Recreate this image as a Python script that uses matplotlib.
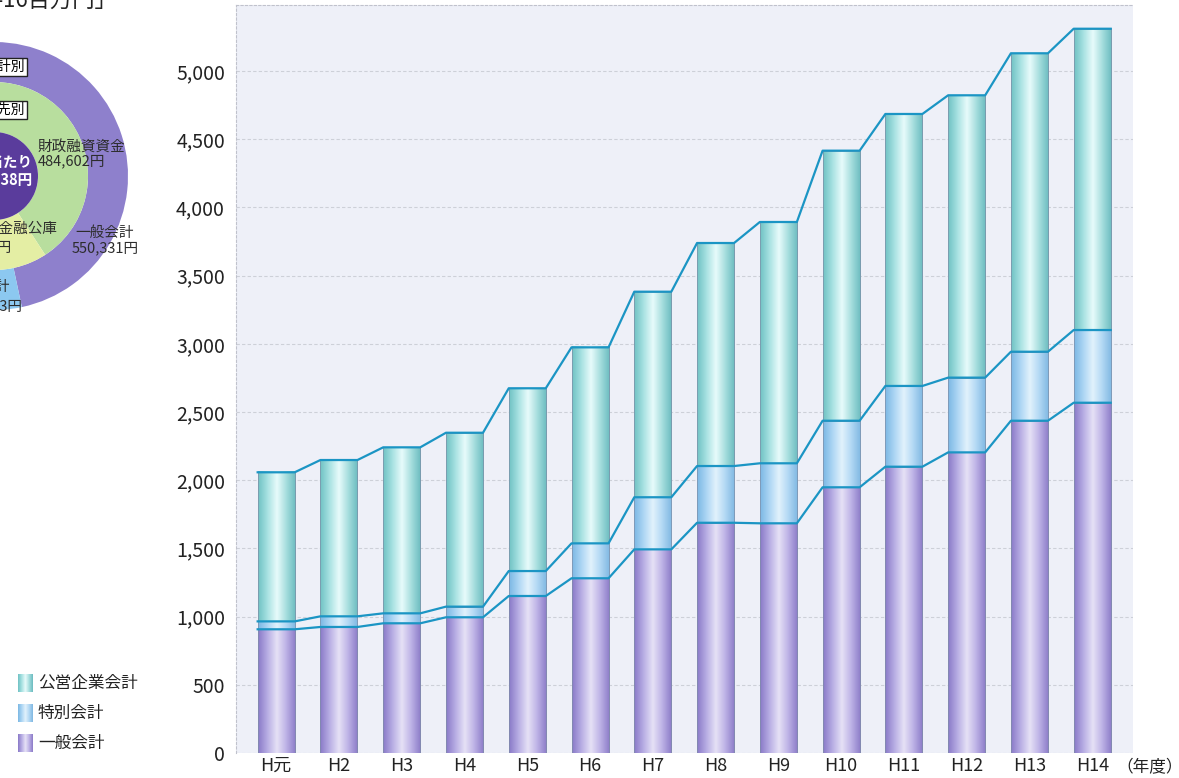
import numpy as np
import matplotlib
matplotlib.use('Agg')
import matplotlib.pyplot as plt
from matplotlib.colors import LinearSegmentedColormap

plt.rcParams['font.family'] = ['Noto Sans CJK JP', 'DejaVu Sans']

# --- data (百万円) ---
years = ['H元', 'H2', 'H3', 'H4', 'H5', 'H6', 'H7', 'H8', 'H9', 'H10', 'H11', 'H12', 'H13', 'H14']
general = [907, 924, 951, 995, 1151, 1281, 1493, 1688, 1684, 1948, 2099, 2204, 2436, 2568]
special = [58, 78, 73, 78, 183, 256, 382, 416, 440, 488, 592, 548, 506, 533]
public = [1093, 1146, 1217, 1275, 1340, 1437, 1507, 1635, 1769, 1980, 1994, 2070, 2188, 2209]
series_names = ['一般会計', '特別会計', '公営企業会計']
yticks = [0, 500, 1000, 1500, 2000, 2500, 3000, 3500, 4000, 4500, 5000]

# donut (1人当たり, 円)
outer_names = ['一般会計', '公営企業会計', '特別会計']
outer_vals = [550331, 387724, 97883]
middle_names = ['財政融資資金', 'その他', '公営企業金融公庫']
middle_vals = [484602, 370398, 180938]

W, H = 1179, 778
fig = plt.figure(figsize=(W / 100, H / 100), dpi=100)

cmaps = [
    LinearSegmentedColormap.from_list('gen', ['#8a7ac8', '#b8aee4', '#e6e2f6', '#bdb2e6', '#8c7cc8']),
    LinearSegmentedColormap.from_list('spc', ['#7cb8e4', '#add6f4', '#e2f2fc', '#b2d8f4', '#80b8e2']),
    LinearSegmentedColormap.from_list('pub', ['#70c2c4', '#a8e2e2', '#e8fbfb', '#a6dede', '#6cbcc0']),
]
grad = np.linspace(0, 1, 64).reshape(1, -1)

ax = fig.add_axes([236 / W, (H - 753) / H, (1133 - 236) / W, (753 - 5) / H])
ax.set_facecolor('#eef0f8')
x = np.arange(len(years))
bw = 0.59
vals = [np.array(general), np.array(special), np.array(public)]
bottom = np.zeros(len(years))
tops = []
for v, cm in zip(vals, cmaps):
    for xi, b, h in zip(x, bottom, v):
        ax.imshow(grad, cmap=cm, aspect='auto', zorder=3,
                  extent=(xi - bw / 2, xi + bw / 2, b, b + h))
    ax.bar(x, v, bw, bottom=bottom, facecolor='none', edgecolor='#7f8fa8',
           linewidth=0.5, zorder=4)
    bottom = bottom + v
    tops.append(bottom.copy())

# connecting lines over the bar tops
lx = np.column_stack([x - bw / 2, x + bw / 2]).ravel()
for t in tops:
    ax.plot(lx, np.repeat(t, 2), color='#1b95c4', lw=1.6, zorder=5,
            solid_joinstyle='round')

ax.set_xlim(-0.64, 13.65)
ax.set_ylim(0, 5484)
ax.set_yticks(yticks)
ax.set_yticklabels([f'{t:,}' for t in yticks], fontsize=14, color='#222222')
ax.set_xticks(x)
ax.set_xticklabels(years, fontsize=13, color='#222222')
ax.tick_params(length=0, pad=8)
ax.tick_params(axis='x', pad=3)
ax.grid(axis='y', color='#cdd0d8', lw=0.8, ls=(0, (3, 2)), zorder=1)
for s in ['right', 'bottom']:
    ax.spines[s].set_visible(False)
for s in ['left', 'top']:
    ax.spines[s].set_color('#c0c2cc')
    ax.spines[s].set_linestyle((0, (2, 2)))
    ax.spines[s].set_linewidth(0.8)
fig.text(1116 / W, 1 - 768 / H, '（年度）', fontsize=12, color='#222222',
         va='center', ha='left')

# legend
lax = fig.add_axes([0, 0, 200 / W, 120 / H])
lax.set_xlim(0, 200)
lax.set_ylim(0, 120)
lax.axis('off')
for i, (name, cm) in enumerate(zip(series_names[::-1], cmaps[::-1])):
    yc = 778 - (683 + 30 * i)
    lax.imshow(grad, cmap=cm, aspect='auto', extent=(18, 33, yc - 9, yc + 9))
    lax.text(38, yc, name, fontsize=12, va='center', ha='left', color='#222222')
lax.set_xlim(0, 200)
lax.set_ylim(0, 120)

# partial donut at the top left (cut by the page edge)
cx, cy, R = -6, 176, 140
dax = fig.add_axes([(cx - R) / W, (H - cy - R) / H, 2 * R / W, 2 * R / H])
dax.pie(outer_vals, radius=134, startangle=-78, counterclock=True,
        colors=['#8e80cc', '#80d0d0', '#8cc8f0'],
        wedgeprops=dict(width=40, edgecolor='none'))
dax.pie(middle_vals, radius=94, startangle=-57, counterclock=True,
        colors=['#b8de9e', '#c6e6b0', '#e4eea4'],
        wedgeprops=dict(width=50, edgecolor='none'))
dax.pie([1], radius=44, colors=['#5a3c9c'], wedgeprops=dict(edgecolor='none'))
dax.set_xlim(-R, R)
dax.set_ylim(-R, R)
dax.axis('off')

box = dict(boxstyle='square,pad=0.15', fc='white', ec='#222222', lw=1)
dax.text(31, 109, '会計別', fontsize=10, ha='right', va='center', bbox=box)
dax.text(31, 66, '借入先別', fontsize=10, ha='right', va='center', bbox=box)
dax.text(44, 22, f'{middle_names[0]}\n{middle_vals[0]:,}円', fontsize=10.5,
         ha='left', va='center', color='#2c2c2c', linespacing=1.1)
dax.text(111, -65, f'{outer_names[0]}\n{outer_vals[0]:,}円', fontsize=10.5,
         ha='center', va='center', color='#2c2c2c', linespacing=1.1)
dax.text(63, -53, middle_names[2], fontsize=10.5, ha='right', va='center', color='#2c2c2c')
dax.text(18, -71, f'{middle_vals[2]:,}円', fontsize=10.5, ha='right', va='center', color='#2c2c2c')
dax.text(16, -111, outer_names[2], fontsize=10.5, ha='right', va='center', color='#2c2c2c')
dax.text(28, -130, f'{outer_vals[2]:,}円', fontsize=10.5, ha='right', va='center', color='#2c2c2c')
dax.text(39, 14, '1人当たり', fontsize=10.5, ha='right', va='center', color='white', fontweight='bold')
dax.text(39, -4, f'{sum(outer_vals):,}円', fontsize=10.5, ha='right', va='center',
         color='white', fontweight='bold')

fig.text(117 / W, 1 - 1 / H, '1,416百万円」', fontsize=16, ha='right', va='center',
         color='#222222')

fig.savefig('out.png', dpi=100)
